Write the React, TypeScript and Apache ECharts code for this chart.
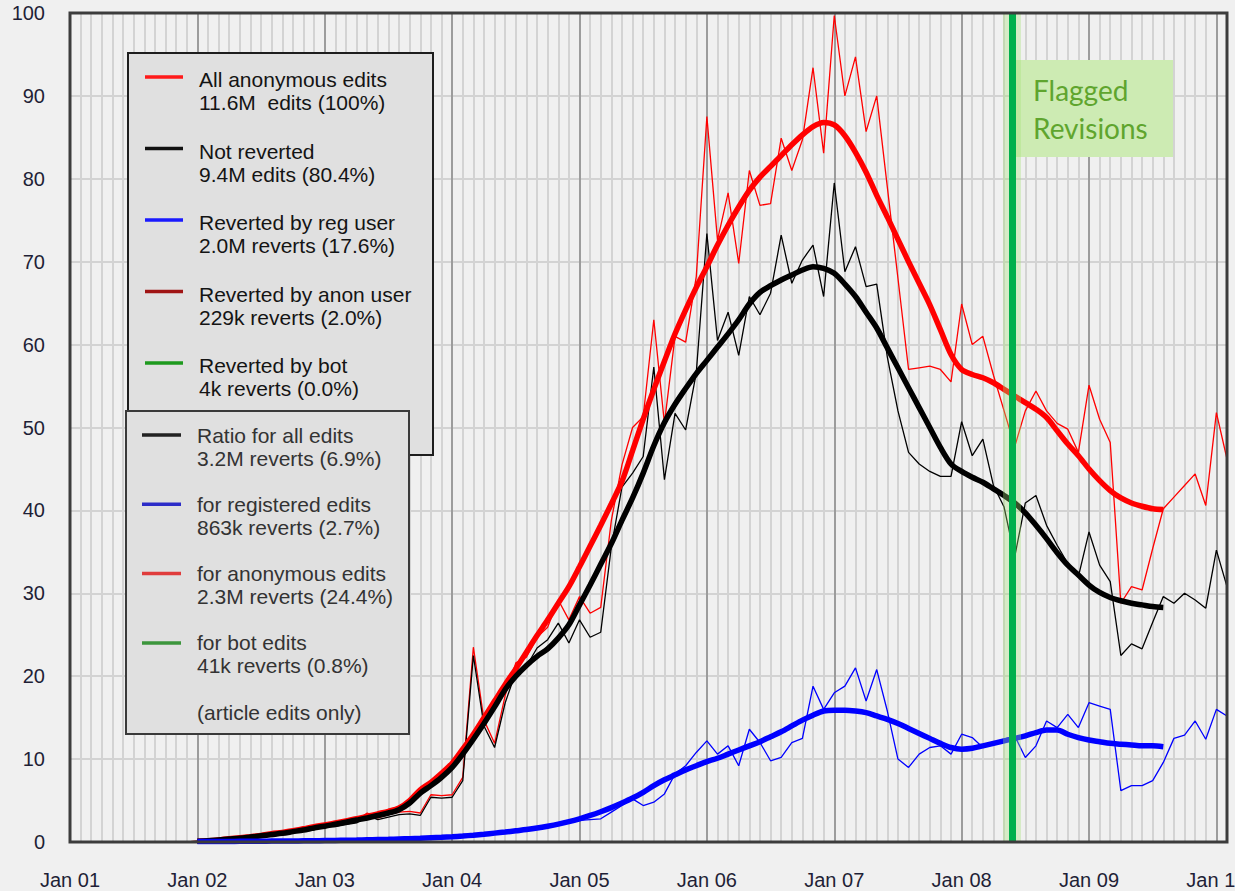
import React, { useEffect, useRef } from "react";
import * as echarts from "echarts";

// ---------- axis content ----------
const X_MIN = 0; // months since Jan 2001
const X_MAX = 109;
const yearLabels = ["Jan 01", "Jan 02", "Jan 03", "Jan 04", "Jan 05", "Jan 06", "Jan 07", "Jan 08", "Jan 09", "Jan 10"];
const Y_MIN = 0;
const Y_MAX = 100;
const Y_STEP = 10;

// ---------- monthly values (thin lines), starting at month index THIN_START ----------
const THIN_START = 3;
const allAnonMonthly = [
  0, 0, 0, 0, 0, 0, 0, 0, 0,
  0.1, 0.15, 0.2, 0.35, 0.4, 0.55, 0.7, 0.8, 1.0, 1.2, 1.4, 1.6,
  2.0, 2.0, 2.3, 2.5, 3.5, 2.9, 3.3, 3.6, 3.7, 3.5, 5.7, 5.6,
  5.7, 7.8, 23.5, 14.7, 11.9, 17.7, 21.6, 22.3, 24.7, 25.9, 29.2, 26.8,
  29.6, 27.6, 28.3, 38.8, 45.5, 50.0, 51.3, 63.0, 50.5, 61.0, 60.3, 68.2,
  87.5, 72.6, 78.3, 69.8, 81.0, 76.8, 77.0, 84.9, 81.0, 84.7, 93.4, 83.1,
  99.7, 90.0, 94.7, 85.7, 90.0, 79.0, 68.0, 57.0, 57.2, 57.4, 57.0, 55.5,
  64.9, 60.0, 61.0, 56.3, 52.0, 47.7, 52.0, 54.4, 52.0, 50.5, 49.8, 47.0,
  55.1, 51.0, 48.2, 28.8, 30.8, 30.4, 35.4, 40.2, 41.6, 43.0, 44.4, 40.6,
  51.8, 46.2,
];
const notRevertedMonthly = [
  0, 0, 0, 0, 0, 0, 0, 0, 0,
  0.1, 0.13, 0.18, 0.3, 0.35, 0.5, 0.62, 0.72, 0.9, 1.1, 1.3, 1.45,
  1.85, 1.85, 2.1, 2.3, 3.2, 2.7, 3.0, 3.3, 3.4, 3.2, 5.4, 5.3,
  5.4, 7.4, 22.5, 14.0, 11.4, 16.8, 20.5, 21.2, 23.4, 24.4, 26.4, 24.0,
  26.8, 24.7, 25.3, 35.6, 42.8, 44.5, 46.5, 57.3, 43.7, 51.7, 49.7, 56.6,
  73.4, 60.5, 63.9, 58.7, 65.8, 63.6, 66.2, 73.2, 67.4, 70.2, 72.0, 65.8,
  79.5, 68.8, 71.8, 67.0, 67.3, 58.5, 52.0, 47.0, 45.6, 44.7, 44.1, 44.1,
  50.7, 46.6, 48.6, 43.0, 40.4, 34.4, 40.9, 41.8, 38.2, 35.8, 33.6, 32.0,
  37.4, 33.4, 31.4, 22.5, 23.9, 23.3, 26.5, 29.6, 28.8, 30.0, 29.2, 28.2,
  35.2, 30.8,
];
const regRevertMonthly = [
  0, 0, 0, 0, 0, 0, 0, 0, 0,
  0.05, 0.05, 0.06, 0.07, 0.08, 0.09, 0.1, 0.11, 0.12, 0.13, 0.14, 0.15,
  0.17, 0.18, 0.21, 0.22, 0.26, 0.28, 0.32, 0.35, 0.4, 0.43, 0.5, 0.55,
  0.62, 0.7, 0.85, 0.9, 1.05, 1.2, 1.3, 1.5, 1.7, 1.85, 2.1, 2.4,
  2.6, 2.7, 2.8, 3.6, 4.4, 5.2, 4.4, 4.8, 5.8, 8.2, 9.2, 10.8,
  12.2, 10.6, 11.6, 9.2, 13.6, 12.0, 9.8, 10.2, 12.0, 12.5, 18.8, 16.0,
  18.0, 18.8, 21.0, 17.0, 20.8, 15.8, 10.0, 9.0, 10.6, 11.4, 11.6, 10.6,
  13.0, 12.6, 11.4, 12.0, 12.4, 12.8, 10.2, 11.6, 14.6, 13.8, 15.4, 13.8,
  16.8, 16.4, 16.0, 6.2, 6.8, 6.8, 7.4, 9.6, 12.5, 12.9, 14.6, 12.4,
  16.0, 15.2,
];

// ---------- smoothed values (thick lines), starting at month index SMOOTH_START ----------
const SMOOTH_START = 12;
const allAnonSmooth = [
  0.1, 0.15, 0.25, 0.4, 0.5, 0.65, 0.8, 1.0, 1.15, 1.35, 1.6, 1.85,
  2.05, 2.3, 2.55, 2.8, 3.1, 3.4, 3.7, 4.1, 5.0, 6.3, 7.2, 8.3,
  9.5, 11.2, 13.0, 15.0, 17.0, 19.0, 20.9, 22.9, 24.9, 26.8, 28.8, 30.8,
  33.2, 35.7, 38.2, 40.8, 43.5, 47.2, 51.0, 54.6, 58.0, 61.3, 64.2, 66.9,
  69.4, 72.0, 74.4, 76.6, 78.6, 80.2, 81.5, 82.8, 84.1, 85.3, 86.3, 86.8,
  86.5, 85.2, 83.2, 80.8, 78.0, 75.4, 72.7, 70.0, 67.4, 64.8, 61.8, 58.8,
  57.0, 56.4, 56.0, 55.4, 54.6, 53.8, 53.0, 52.2, 51.2, 49.6, 48.0, 46.6,
  45.0, 43.6, 42.4, 41.5, 40.9, 40.5, 40.2, 40.1,
];
const notRevertedSmooth = [
  0.1, 0.15, 0.25, 0.35, 0.45, 0.6, 0.75, 0.9, 1.05, 1.25, 1.45, 1.7,
  1.9, 2.15, 2.4, 2.65, 2.9, 3.2, 3.5, 3.9, 4.7, 5.9, 6.8, 7.8,
  9.0, 10.6, 12.4, 14.3, 16.3, 18.4, 20.0, 21.3, 22.4, 23.3, 24.6, 26.2,
  28.6, 31.0, 33.5, 36.0, 38.8, 41.5, 44.5, 47.8, 50.6, 52.8, 54.7, 56.5,
  58.1, 59.7, 61.3, 63.0, 64.9, 66.3, 67.1, 67.8, 68.4, 69.0, 69.4, 69.2,
  68.6, 67.3, 65.8, 63.9, 62.0, 59.6, 57.2, 54.8, 52.4, 50.0, 47.6, 45.6,
  44.7, 44.0, 43.4, 42.6, 41.8, 40.9, 39.7, 38.2, 36.6, 34.9, 33.4, 32.2,
  31.0, 30.1, 29.5, 29.1, 28.8, 28.6, 28.4, 28.3,
];
const regRevertSmooth = [
  0.05, 0.05, 0.06, 0.07, 0.08, 0.09, 0.1, 0.11, 0.12, 0.13, 0.14, 0.15,
  0.17, 0.19, 0.21, 0.23, 0.26, 0.29, 0.32, 0.36, 0.4, 0.44, 0.5, 0.56,
  0.63, 0.72, 0.82, 0.94, 1.07, 1.2, 1.35, 1.5, 1.68, 1.9, 2.15, 2.45,
  2.8, 3.2, 3.65, 4.15, 4.7, 5.3, 6.0, 6.8, 7.5, 8.1, 8.7, 9.2,
  9.7, 10.1, 10.6, 11.1, 11.6, 12.1, 12.7, 13.3, 14.0, 14.7, 15.3, 15.8,
  15.9, 15.9, 15.8, 15.6, 15.2, 14.8, 14.3, 13.7, 13.1, 12.5, 11.9, 11.4,
  11.2, 11.3, 11.6, 11.9, 12.2, 12.5, 12.8, 13.2, 13.5, 13.5, 13.0, 12.6,
  12.3, 12.1, 11.9, 11.8, 11.7, 11.6, 11.6, 11.5,
];

// ---------- annotation ----------
const flaggedRevisionsMonth = 88.75; // mid May 2008
const flaggedLabel = ["Flagged", "Revisions"];

// ---------- legend texts ----------
const legendMain = [
  { color: "#ff1a1a", l1: "All anonymous edits", l2: "11.6M  edits (100%)" },
  { color: "#111111", l1: "Not reverted", l2: "9.4M edits (80.4%)" },
  { color: "#1a1aff", l1: "Reverted by reg user", l2: "2.0M reverts (17.6%)" },
  { color: "#a01414", l1: "Reverted by anon user", l2: "229k reverts (2.0%)" },
  { color: "#1e9a1e", l1: "Reverted by bot", l2: "4k reverts (0.0%)" },
];
const legendRatio = [
  { color: "#222222", l1: "Ratio for all edits", l2: "3.2M reverts (6.9%)" },
  { color: "#2c2cc8", l1: "for registered edits", l2: "863k reverts (2.7%)" },
  { color: "#e03c3c", l1: "for anonymous edits", l2: "2.3M reverts (24.4%)" },
  { color: "#3c963c", l1: "for bot edits", l2: "41k reverts (0.8%)" },
];
const legendRatioNote = "(article edits only)";

const toPairs = (start: number, arr: number[]) => arr.map((v, i) => [start + i, v]);

const FONT = "'Liberation Sans', Arial, sans-serif";

function buildLegend(
  items: { color: string; l1: string; l2: string }[],
  box: { x: number; y: number; w: number; h: number; stroke: string },
  first: number,
  step: number,
  sx0: number,
  sx1: number,
  tx: number,
  textColor: string,
  textDy: number,
  z: number
) {
  const els: any[] = [
    {
      type: "rect",
      z,
      shape: { x: box.x, y: box.y, width: box.w, height: box.h },
      style: { fill: "#e0e0e0", stroke: box.stroke, lineWidth: 2 },
    },
  ];
  items.forEach((it, i) => {
    const y = first + i * step;
    els.push({
      type: "line",
      z: z + 1,
      shape: { x1: sx0, y1: y, x2: sx1, y2: y },
      style: { stroke: it.color, lineWidth: 3.5 },
    });
    els.push({
      type: "text",
      z: z + 1,
      style: { text: it.l1, x: tx, y: y + textDy, font: `21px ${FONT}`, fill: textColor, verticalAlign: "middle" },
    });
    els.push({
      type: "text",
      z: z + 1,
      style: { text: it.l2, x: tx, y: y + textDy + 23, font: `21px ${FONT}`, fill: textColor, verticalAlign: "middle" },
    });
  });
  return els;
}

export default function App() {
  const ref = useRef<HTMLDivElement>(null);

  useEffect(() => {
    if (!ref.current) return;
    const chart = echarts.init(ref.current, null, { renderer: "svg" });

    const mainLegend = buildLegend(
      legendMain,
      { x: 128, y: 53, w: 305, h: 402, stroke: "#1e1e1e" },
      77,
      71.5,
      145,
      183,
      199,
      "#141414",
      2.5,
      100
    );
    const ratioLegend = buildLegend(
      legendRatio,
      { x: 126, y: 411, w: 283, h: 323, stroke: "#3a3a3a" },
      435,
      69.3,
      142,
      181,
      197,
      "#333333",
      0,
      110
    );
    ratioLegend.push({
      type: "text",
      z: 111,
      style: { text: legendRatioNote, x: 197, y: 712, font: `21px ${FONT}`, fill: "#333333", verticalAlign: "middle" },
    });

    const option: any = {
      animation: false,
      backgroundColor: "#f0f0f0",
      grid: { left: 70, right: 8, top: 13, bottom: 49, containLabel: false, outerBoundsMode: "none" },
      xAxis: [
        {
          type: "value",
          min: X_MIN,
          max: X_MAX,
          interval: 1,
          axisLine: { show: false },
          axisTick: { show: false },
          axisLabel: { show: false },
          splitLine: { show: true, lineStyle: { color: "#d3d3d3", width: 2 } },
          z: 0,
        },
        {
          type: "value",
          min: X_MIN,
          max: X_MAX,
          interval: 12,
          position: "bottom",
          axisLine: { show: false },
          axisTick: { show: false },
          axisLabel: {
            margin: 28,
            fontSize: 20,
            fontFamily: FONT,
            color: "#1f1f36",
            hideOverlap: false,
            formatter: (v: number) => (v % 12 === 0 ? yearLabels[v / 12] || "" : ""),
          },
          splitLine: { show: true, lineStyle: { color: "#8a8a8a", width: 1.5 } },
          z: 1,
        },
      ],
      yAxis: {
        type: "value",
        min: Y_MIN,
        max: Y_MAX,
        interval: Y_STEP,
        axisLine: { show: false },
        axisTick: { show: false },
        axisLabel: { margin: 25, fontSize: 20, fontFamily: FONT, color: "#1f1f36" },
        splitLine: { show: true, lineStyle: { color: "#d3d3d3", width: 2 } },
      },
      series: [
        {
          name: "All anonymous edits",
          type: "line",
          data: toPairs(THIN_START, allAnonMonthly),
          symbol: "none",
          lineStyle: { color: "#ff0000", width: 1.3 },
          z: 2,
        },
        {
          name: "Not reverted",
          type: "line",
          data: toPairs(THIN_START, notRevertedMonthly),
          symbol: "none",
          lineStyle: { color: "#000000", width: 1.3 },
          z: 2,
        },
        {
          name: "All anonymous edits (smoothed)",
          type: "line",
          data: toPairs(SMOOTH_START, allAnonSmooth),
          symbol: "none",
          smooth: 0.3,
          lineStyle: { color: "#ff0000", width: 5.5 },
          z: 2,
        },
        {
          name: "Not reverted (smoothed)",
          type: "line",
          data: toPairs(SMOOTH_START, notRevertedSmooth),
          symbol: "none",
          smooth: 0.3,
          lineStyle: { color: "#000000", width: 5.5 },
          z: 2,
        },
        {
          name: "Reverted by reg user",
          type: "line",
          data: toPairs(THIN_START, regRevertMonthly),
          symbol: "none",
          lineStyle: { color: "#0000ff", width: 1.3 },
          z: 2,
        },
        {
          name: "Reverted by reg user (smoothed)",
          type: "line",
          data: toPairs(SMOOTH_START, regRevertSmooth),
          symbol: "none",
          smooth: 0.3,
          lineStyle: { color: "#0000ff", width: 5.5 },
          z: 2,
        },
        {
          name: "Flagged Revisions",
          type: "line",
          data: [],
          z: 5,
          markLine: {
            silent: true,
            symbol: ["none", "none"],
            label: { show: false },
            animation: false,
            data: [
              { xAxis: flaggedRevisionsMonth, lineStyle: { color: "rgba(165,225,120,0.35)", width: 18, type: "solid" } },
              { xAxis: flaggedRevisionsMonth, lineStyle: { color: "#00b04c", width: 7, type: "solid" } },
            ],
          },
        },
      ],
      graphic: [
        {
          type: "rect",
          z: 4,
          shape: { x: 1013, y: 60, width: 160, height: 97 },
          style: { fill: "#cdebb3" },
        },
        {
          type: "text",
          z: 6,
          style: { text: flaggedLabel[0], x: 1033, y: 90, font: "28px Lato, 'Open Sans', sans-serif", fill: "#5fa52e", verticalAlign: "middle" },
        },
        {
          type: "text",
          z: 6,
          style: { text: flaggedLabel[1], x: 1033, y: 128, font: "28px Lato, 'Open Sans', sans-serif", fill: "#5fa52e", verticalAlign: "middle" },
        },
        {
          type: "rect",
          z: 50,
          shape: { x: 70, y: 13, width: 1157, height: 829 },
          style: { fill: "none", stroke: "#3c3c3c", lineWidth: 3 },
        },
        ...mainLegend,
        ...ratioLegend,
      ],
    };

    chart.setOption(option);
    return () => chart.dispose();
  }, []);

  return <div ref={ref} style={{ position: "absolute", left: 0, top: 0, width: 1235, height: 891 }} />;
}
